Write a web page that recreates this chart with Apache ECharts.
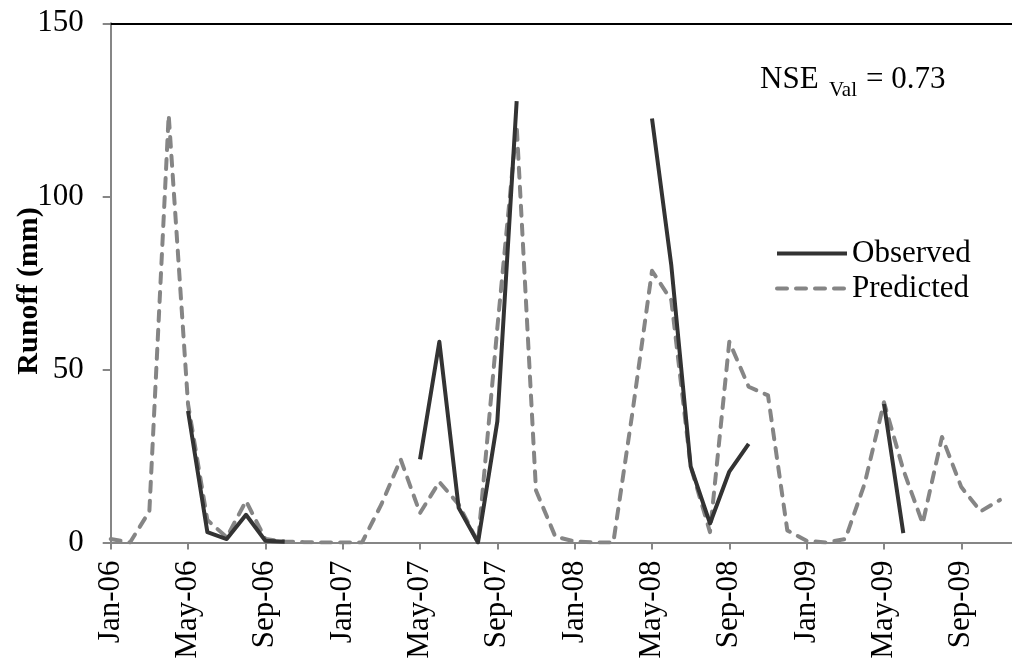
<!DOCTYPE html>
<html>
<head>
<meta charset="utf-8">
<script src="https://cdn.jsdelivr.net/npm/echarts@6/dist/echarts.min.js"></script>
<style>
html,body{margin:0;padding:0;background:#fff;}
#chart{width:1012px;height:664px;}
</style>
</head>
<body>
<div id="chart"></div>
<script>
// Monthly categories (Jan-06 .. Dec-09)
const categories = [
  'Jan-06','Feb-06','Mar-06','Apr-06','May-06','Jun-06','Jul-06','Aug-06','Sep-06','Oct-06','Nov-06','Dec-06',
  'Jan-07','Feb-07','Mar-07','Apr-07','May-07','Jun-07','Jul-07','Aug-07','Sep-07','Oct-07','Nov-07','Dec-07',
  'Jan-08','Feb-08','Mar-08','Apr-08','May-08','Jun-08','Jul-08','Aug-08','Sep-08','Oct-08','Nov-08','Dec-08',
  'Jan-09','Feb-09','Mar-09','Apr-09','May-09','Jun-09','Jul-09','Aug-09','Sep-09','Oct-09','Nov-09','Dec-09'
];
// Observed runoff (mm); null = no observation
const observed = [
  null, null, null, null, 38, 3, 1, 8, 0.5, 0.2, null, null,
  null, null, null, null, 24, 58, 10, 0, 35, 127.5, null, null,
  null, null, null, null, 122.5, 80, 22, 5.5, 20.5, 28.5, null, null,
  null, null, null, null, 40, 2.7, null, null, null, null, null, null
];
// Predicted runoff (mm)
const predicted = [
  1, 0, 9, 123.5, 40, 6.5, 1.5, 12, 1, 0.3, 0.1, 0,
  0, 0, 11, 24, 8.5, 17.5, 11, 0, 62, 120.5, 15, 1.7,
  0.3, 0, 0, 38, 78.5, 70, 22, 3, 58, 45, 42.5, 3.5,
  0.5, 0, 1, 17, 40.5, 21, 5.5, 30.5, 16, 9, 12.3
];
const yTicks = {min: 0, max: 150, interval: 50};
const seriesNames = ['Observed', 'Predicted'];

const FONT = "'Liberation Serif', 'Times New Roman', serif";
const chart = echarts.init(document.getElementById('chart'), null, {renderer: 'canvas'});
chart.setOption({
  animation: false,
  backgroundColor: '#fff',
  grid: {left: 110.7, top: 23.3, bottom: 121.5, right: -7.3, containLabel: false, outerBoundsMode: 'none'},
  legend: {
    orient: 'vertical',
    left: 775,
    top: 238,
    padding: 0,
    itemWidth: 70,
    itemHeight: 14,
    itemGap: 4,
    data: seriesNames,
    itemStyle: {opacity: 0},
    lineStyle: {width: 4},
    textStyle: {fontFamily: FONT, fontSize: 31, color: '#000'}
  },
  xAxis: [{
    type: 'category',
    data: categories,
    boundaryGap: false,
    axisLine: {lineStyle: {color: '#868686', width: 2}},
    axisTick: {interval: 3, length: 7, lineStyle: {color: '#868686', width: 2}},
    axisLabel: {interval: 3, rotate: 90, margin: 18, fontFamily: FONT, fontSize: 31, color: '#000'},
    splitLine: {show: false}
  }, {
    type: 'category',
    data: categories,
    boundaryGap: false,
    position: 'top',
    axisLine: {lineStyle: {color: '#000', width: 2}},
    axisTick: {show: false},
    axisLabel: {show: false},
    splitLine: {show: false}
  }],
  yAxis: {
    type: 'value',
    min: yTicks.min, max: yTicks.max, interval: yTicks.interval,
    name: 'Runoff (mm)',
    nameLocation: 'middle',
    nameGap: 66,
    nameMoveOverlap: false,
    nameTextStyle: {fontFamily: FONT, fontSize: 30, fontWeight: 'bold', color: '#000', padding: [0, 16, 0, 0]},
    axisLine: {show: true, lineStyle: {color: '#868686', width: 2}},
    axisTick: {show: true, length: 8, lineStyle: {color: '#868686', width: 2}},
    axisLabel: {margin: 27, fontFamily: FONT, fontSize: 31, color: '#000'},
    splitLine: {show: false}
  },
  graphic: [
    {type: 'text', left: 760, top: 64, style: {text: 'NSE', font: "31px 'Liberation Serif'", fill: '#000'}},
    {type: 'text', left: 829, top: 80, style: {text: 'Val', font: "21px 'Liberation Serif'", fill: '#000'}},
    {type: 'text', left: 866, top: 64, style: {text: '= 0.73', font: "31px 'Liberation Serif'", fill: '#000'}}
  ],
  series: [{
    name: seriesNames[0],
    type: 'line',
    data: observed,
    symbol: 'none',
    connectNulls: false,
    color: '#333333',
    lineStyle: {color: '#333333', width: 4, join: 'round'},
    z: 3
  }, {
    name: seriesNames[1],
    type: 'line',
    data: predicted,
    symbol: 'none',
    color: '#858585',
    lineStyle: {color: '#858585', width: 4, type: [10, 9], cap: 'round', join: 'round'},
    z: 2
  }]
});
</script>
</body>
</html>
